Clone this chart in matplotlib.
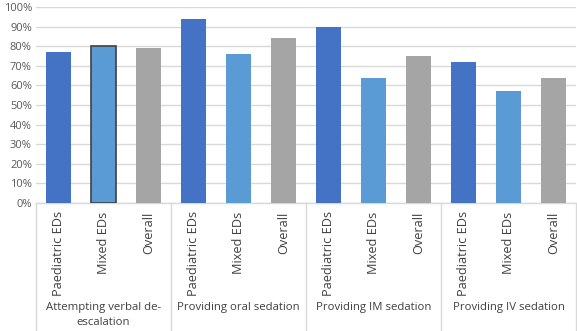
import matplotlib
matplotlib.use("Agg")
import matplotlib.pyplot as plt
import matplotlib.transforms as mtransforms
from matplotlib.ticker import PercentFormatter

groups = ["Attempting verbal de-\nescalation", "Providing oral sedation",
          "Providing IM sedation", "Providing IV sedation"]
subcats = ["Paediatric EDs", "Mixed EDs", "Overall"]
paediatric = [77, 94, 90, 72]
mixed = [80, 76, 64, 57]
overall = [79, 84, 75, 64]

colors = ["#4472C4", "#5B9BD5", "#A5A5A5"]

plt.rcParams['font.family'] = ['Open Sans', 'DejaVu Sans']

fig = plt.figure(figsize=(5.77, 3.31), dpi=100)
W, H = 577, 331
ax = fig.add_axes([36 / W, 1 - 203 / H, 540 / W, 196 / H])

xs, heights, cols, labels = [], [], [], []
for g in range(len(groups)):
    for s, series in enumerate([paediatric, mixed, overall]):
        xs.append(g * 3 + s)
        heights.append(series[g])
        cols.append(colors[s])
        labels.append(subcats[s])

bars = ax.bar(xs, heights, width=0.56, color=cols, zorder=3)
bars[1].set_edgecolor("#404040")
bars[1].set_linewidth(1.2)

ax.set_xlim(-0.5, len(xs) - 0.5)
ax.set_ylim(0, 100)
ax.set_yticks(range(0, 101, 10))
ax.yaxis.set_major_formatter(PercentFormatter(decimals=0))
ax.grid(axis="y", color="#D9D9D9", linewidth=1, zorder=0)
for sp in ["top", "right", "left"]:
    ax.spines[sp].set_visible(False)
ax.spines["bottom"].set_color("#D9D9D9")
ax.spines["bottom"].set_linewidth(1)
ax.tick_params(axis="y", length=0, labelsize=8, labelcolor="#595959", pad=3)
ax.set_xticks(xs)
ax.set_xticklabels(labels, rotation=90, fontsize=9.2, color="#404040", va="top")
ax.tick_params(axis="x", length=0, pad=6)

trans = mtransforms.blended_transform_factory(ax.transData, fig.transFigure)
for b in [-0.5, 2.5, 5.5, 8.5, 11.5]:
    ax.plot([b, b], [1 - 203 / H, 0], transform=trans, color="#D9D9D9",
            linewidth=1, clip_on=False)
for g, name in enumerate(groups):
    ax.text(g * 3 + 1, 1 - 302 / H, name, transform=trans, ha="center",
            va="top", fontsize=8.2, color="#404040", linespacing=1.45)

fig.savefig("out.png", dpi=100)
